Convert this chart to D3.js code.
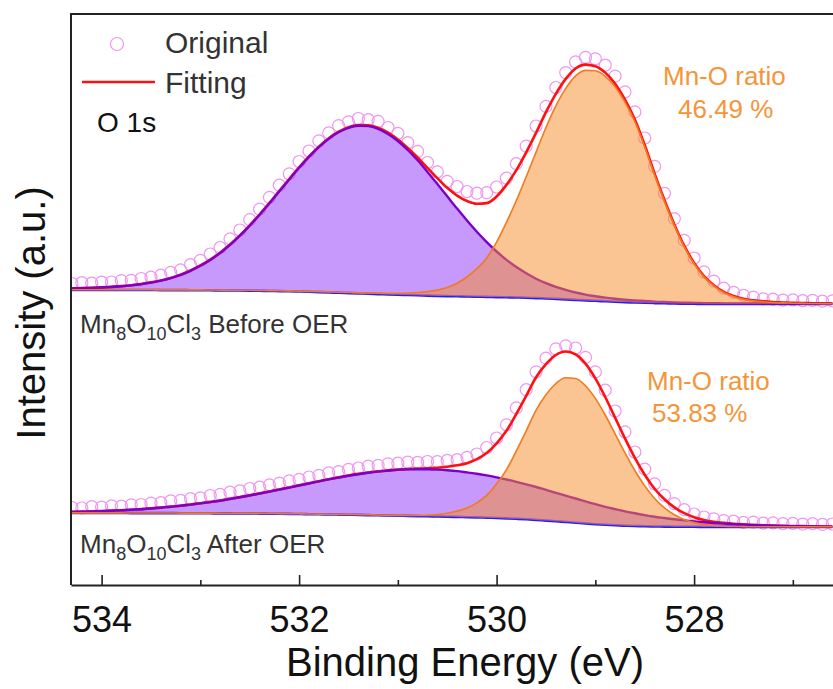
<!DOCTYPE html>
<html>
<head>
<meta charset="utf-8">
<script src="https://cdn.jsdelivr.net/npm/d3@7"></script>
<style>
  body { margin: 0; background: #fff; }
  svg { display: block; font-family: Arial, "Liberation Sans", sans-serif; }
</style>
</head>
<body>
<svg id="chart" width="833" height="689"></svg>
<script>
// Binding energy sampling grid (eV), high to low, 0.1 eV step
const energy = d3.range(78).map(i => +(534.3 - i * 0.1).toFixed(1));

// ---- Before OER (upper spectrum) ----
const beforeRaw = [
  301.5, 302.3, 301.9, 302.8, 303.0, 304.4, 304.6, 306.5, 307.8, 309.9,
  312.6, 315.2, 320.3, 324.6, 331.0, 337.5, 346.2, 355.0, 365.4, 375.9,
  387.6, 399.8, 411.2, 423.5, 434.0, 444.2, 452.1, 459.4, 463.2, 466.5,
  465.3, 463.6, 457.5, 451.7, 442.4, 433.6, 422.5, 413.2, 403.6, 398.5,
  393.5, 391.8, 392.4, 398.0, 406.8, 421.3, 438.9, 459.0, 478.6, 497.5,
  512.4, 523.1, 527.6, 526.2, 519.8, 508.9, 493.2, 473.1, 447.0, 418.6,
  391.7, 366.3, 344.6, 327.0, 313.1, 303.9, 296.8, 292.6, 289.7, 287.9,
  286.1, 285.8, 284.9, 285.2, 284.3, 284.6, 283.8, 284.1
];
const beforeBackground = [
  295.0, 295.0, 295.0, 295.0, 295.0, 295.0, 295.0, 295.0, 295.0, 294.9,
  294.9, 294.9, 294.8, 294.8, 294.7, 294.6, 294.5, 294.5, 294.4, 294.2,
  294.0, 293.9, 293.7, 293.5, 293.2, 292.9, 292.6, 292.2, 291.9, 291.6,
  291.2, 290.9, 290.6, 290.3, 290.0, 289.7, 289.4, 289.1, 288.9, 288.7,
  288.5, 288.3, 288.1, 287.9, 287.7, 287.5, 287.3, 286.9, 286.5, 286.1,
  285.6, 285.1, 284.6, 284.2, 283.7, 283.3, 282.9, 282.5, 282.2, 281.9,
  281.7, 281.5, 281.3, 281.2, 281.1, 281.1, 281.0, 281.0, 281.0, 281.0,
  281.0, 281.0, 281.0, 281.0, 281.0, 281.0, 281.0, 281.0
];
const beforeHighBE = [
  1.5, 1.8, 2.1, 2.5, 3.0, 3.7, 4.6, 5.8, 7.4, 9.5,
  12.0, 15.3, 19.4, 24.4, 30.4, 37.4, 45.6, 54.8, 65.0, 76.0,
  87.7, 99.8, 111.9, 123.7, 135.0, 145.0, 153.7, 160.5, 165.3, 167.7,
  167.7, 165.3, 160.5, 153.7, 145.0, 135.0, 123.7, 111.9, 99.8, 87.7,
  76.0, 65.0, 54.8, 45.6, 37.4, 30.4, 24.4, 19.4, 15.3, 12.0,
  9.5, 7.4, 5.8, 4.6, 3.7, 3.0, 2.5, 2.1, 1.8, 1.5,
  1.3, 1.1, 1.0, 0.9, 0.8, 0.7, 0.6, 0.6, 0.5, 0.5,
  0.4, 0.4, 0.4, 0.3, 0.3, 0.3, 0.3, 0.3
];
const beforeMnO = [
  0.2, 0.2, 0.2, 0.2, 0.2, 0.2, 0.2, 0.2, 0.2, 0.2,
  0.2, 0.2, 0.3, 0.3, 0.3, 0.3, 0.3, 0.3, 0.3, 0.3,
  0.4, 0.4, 0.4, 0.4, 0.4, 0.5, 0.5, 0.6, 0.6, 0.7,
  0.8, 1.0, 1.2, 1.5, 2.0, 2.8, 4.0, 5.8, 8.5, 13.0,
  19.5, 28.0, 39.0, 55.0, 75.0, 97.0, 121.0, 146.0, 171.0, 193.0,
  211.0, 224.0, 230.0, 230.0, 225.0, 215.0, 200.0, 181.0, 156.0, 128.0,
  102.0, 78.0, 57.0, 40.0, 27.0, 18.0, 11.5, 7.5, 4.8, 3.2,
  2.2, 1.5, 1.1, 0.8, 0.6, 0.5, 0.4, 0.4
];

// ---- After OER (lower spectrum) ----
const afterRaw = [
  77.5, 77.0, 78.3, 77.9, 79.1, 78.8, 80.2, 80.5, 81.9, 82.3,
  84.1, 84.6, 86.4, 87.2, 89.5, 90.6, 92.8, 94.1, 96.5, 97.8,
  100.2, 101.9, 104.1, 105.6, 108.0, 109.7, 112.1, 113.4, 115.6, 117.0,
  118.9, 119.6, 121.2, 121.8, 122.9, 122.7, 123.5, 123.4, 124.6, 125.3,
  127.6, 131.0, 137.5, 147.0, 160.2, 177.1, 195.3, 213.2, 226.8, 236.1,
  239.2, 237.0, 227.6, 213.1, 194.8, 174.0, 153.2, 133.0, 115.9, 101.2,
  89.6, 81.4, 75.3, 71.0, 68.0, 66.1, 64.4, 63.8, 62.6, 62.9,
  61.8, 62.2, 61.4, 61.7, 60.9, 61.3, 60.6, 61.0
];
const afterBackground = [
  72.0, 72.0, 72.0, 72.0, 72.0, 72.0, 71.9, 71.9, 71.9, 71.9,
  71.9, 71.8, 71.8, 71.8, 71.7, 71.6, 71.6, 71.5, 71.5, 71.4,
  71.3, 71.2, 71.1, 71.0, 70.8, 70.7, 70.6, 70.4, 70.3, 70.1,
  69.9, 69.7, 69.5, 69.3, 69.1, 68.9, 68.7, 68.5, 68.3, 68.1,
  67.8, 67.6, 67.3, 67.0, 66.6, 66.2, 65.7, 65.1, 64.4, 63.7,
  63.0, 62.3, 61.5, 60.8, 60.2, 59.7, 59.3, 59.0, 58.7, 58.5,
  58.4, 58.3, 58.2, 58.2, 58.1, 58.1, 58.1, 58.1, 58.1, 58.0,
  58.0, 58.0, 58.0, 58.0, 58.0, 58.0, 58.0, 58.0
];
const afterHighBE = [
  1.0, 1.25, 1.5, 1.9, 2.3, 2.7, 3.3, 3.9, 4.6, 5.4,
  6.4, 7.4, 8.6, 9.8, 11.2, 12.7, 14.4, 16.2, 18.0, 20.0,
  22.1, 24.2, 26.3, 28.5, 30.7, 32.9, 35.0, 37.0, 38.9, 40.7,
  42.3, 43.7, 44.8, 45.8, 46.5, 46.9, 47.0, 46.9, 46.5, 45.8,
  44.8, 43.7, 42.3, 40.7, 38.9, 37.0, 35.0, 32.9, 30.7, 28.5,
  26.3, 24.2, 22.1, 20.0, 18.0, 16.2, 14.4, 12.7, 11.2, 9.8,
  8.6, 7.4, 6.4, 5.4, 4.6, 3.9, 3.3, 2.7, 2.3, 1.9,
  1.5, 1.25, 1.0, 0.8, 0.7, 0.5, 0.4, 0.3
];
const afterMnO = [
  0.1, 0.1, 0.1, 0.1, 0.1, 0.1, 0.1, 0.1, 0.1, 0.1,
  0.1, 0.1, 0.1, 0.1, 0.2, 0.2, 0.2, 0.2, 0.2, 0.2,
  0.2, 0.2, 0.2, 0.2, 0.2, 0.2, 0.2, 0.2, 0.3, 0.3,
  0.3, 0.3, 0.3, 0.3, 0.4, 0.6, 1.0, 1.9, 3.4, 5.8,
  9.2, 14.6, 22.4, 34.0, 48.7, 68.0, 88.5, 109.8, 125.8, 137.8,
  144.2, 144.2, 137.8, 125.8, 109.8, 91.5, 72.9, 55.5, 40.4, 28.0,
  18.7, 11.9, 7.2, 4.2, 2.4, 1.3, 0.7, 0.4, 0.3, 0.2,
  0.2, 0.2, 0.2, 0.2, 0.2, 0.2, 0.2, 0.2
];

const majorTicks = [534, 532, 530, 528];
const minorTicks = [533, 531, 529, 527];

const sampleLabels = [
  { parts: [["Mn", 0], ["8", 1], ["O", 0], ["10", 1], ["Cl", 0], ["3", 1], [" Before OER", 0]], x: 80, y: 333 },
  { parts: [["Mn", 0], ["8", 1], ["O", 0], ["10", 1], ["Cl", 0], ["3", 1], [" After OER", 0]], x: 80, y: 553 }
];
const ratioLabels = [
  { lines: ["Mn-O ratio", "46.49 %"], x: [663, 678], y: [85, 118] },
  { lines: ["Mn-O ratio", "53.83 %"], x: [647, 652], y: [390, 422] }
];

// ---- layout ----
const svg = d3.select("#chart");
const plot = { left: 71, right: 859, top: 14, bottom: 585 };

const x = d3.scaleLinear().domain([534.31, 526.33]).range([plot.left, plot.right]);
const y = d3.scaleLinear().domain([0, 571]).range([plot.bottom, plot.top]);

svg.append("defs").append("clipPath").attr("id", "plotClip")
  .append("rect")
  .attr("x", plot.left + 1).attr("y", plot.top + 1)
  .attr("width", plot.right - plot.left).attr("height", plot.bottom - plot.top - 1);

const g = svg.append("g").attr("clip-path", "url(#plotClip)");

function makeSpectrum(raw, bg, highBE, mno) {
  return energy.map((e, i) => ({
    e, raw: raw[i], bg: bg[i],
    p: bg[i] + highBE[i],
    o: bg[i] + mno[i],
    fit: bg[i] + highBE[i] + mno[i]
  }));
}
const spectra = [
  makeSpectrum(beforeRaw, beforeBackground, beforeHighBE, beforeMnO),
  makeSpectrum(afterRaw, afterBackground, afterHighBE, afterMnO)
];

const curve = d3.curveMonotoneX;
const line = key => d3.line().x(d => x(d.e)).y(d => y(d[key])).curve(curve);
const band = key => d3.area().x(d => x(d.e)).y0(d => y(d.bg)).y1(d => y(d[key])).curve(curve);

// measured points
spectra.forEach(s => {
  g.append("g").selectAll("circle").data(s).join("circle")
    .attr("cx", d => x(d.e)).attr("cy", d => y(d.raw)).attr("r", 6)
    .attr("fill", "none").attr("stroke", "#f096f0").attr("stroke-width", 1.2);
});

spectra.forEach(s => {
  g.append("path").datum(s).attr("d", line("bg"))
    .attr("fill", "none").attr("stroke", "#2020ff").attr("stroke-width", 2.6);
  g.append("path").datum(s).attr("d", band("p"))
    .attr("fill", "rgb(150,60,250)").attr("fill-opacity", 0.52);
  g.append("path").datum(s).attr("d", line("fit"))
    .attr("fill", "none").attr("stroke", "#ff1010").attr("stroke-width", 2.6);
  g.append("path").datum(s).attr("d", line("p"))
    .attr("fill", "none").attr("stroke", "#7d00c8").attr("stroke-width", 2.4);
  g.append("path").datum(s).attr("d", band("o"))
    .attr("fill", "rgb(245,140,40)").attr("fill-opacity", 0.5);
  g.append("path").datum(s).attr("d", line("o"))
    .attr("fill", "none").attr("stroke", "#f07a20").attr("stroke-width", 1.6);
});

// frame
svg.append("path")
  .attr("d", `M${plot.left},${plot.bottom}V${plot.top}H${plot.right}`)
  .attr("fill", "none").attr("stroke", "#222").attr("stroke-width", 2);

// x axis (ticks inside)
const axisG = svg.append("g").attr("transform", `translate(0,${plot.bottom})`);
axisG.call(d3.axisBottom(x).tickValues(majorTicks).tickFormat(d3.format("d"))
  .tickSizeInner(-10).tickSizeOuter(0).tickPadding(21));
axisG.select(".domain").attr("stroke", "#222").attr("stroke-width", 2);
axisG.selectAll(".tick line").attr("stroke", "#222").attr("stroke-width", 1.6);
axisG.selectAll(".tick text").attr("font-size", 36).attr("fill", "#111")
  .attr("font-family", "Arial, 'Liberation Sans', sans-serif");
const minorG = svg.append("g").attr("transform", `translate(0,${plot.bottom})`);
minorG.call(d3.axisBottom(x).tickValues(minorTicks).tickFormat("").tickSizeInner(-5).tickSizeOuter(0));
minorG.select(".domain").remove();
minorG.selectAll(".tick line").attr("stroke", "#222").attr("stroke-width", 1.6);

svg.append("text").attr("x", (plot.left + plot.right) / 2).attr("y", 676)
  .attr("text-anchor", "middle").attr("font-size", 40).attr("fill", "#111")
  .text("Binding Energy (eV)");

svg.append("text").attr("transform", "translate(45,313) rotate(-90)")
  .attr("text-anchor", "middle").attr("font-size", 40).attr("fill", "#111")
  .text("Intensity (a.u.)");

// legend
svg.append("circle").attr("cx", 117).attr("cy", 44).attr("r", 6.5)
  .attr("fill", "none").attr("stroke", "#f096f0").attr("stroke-width", 1.2);
svg.append("text").attr("x", 165).attr("y", 53).attr("font-size", 30).attr("fill", "#333").text("Original");
svg.append("line").attr("x1", 82).attr("x2", 155).attr("y1", 82).attr("y2", 82)
  .attr("stroke", "#ff1010").attr("stroke-width", 2.6);
svg.append("text").attr("x", 165).attr("y", 93).attr("font-size", 30).attr("fill", "#333").text("Fitting");
svg.append("text").attr("x", 97).attr("y", 132).attr("font-size", 28).attr("fill", "#111").text("O 1s");

// Mn-O ratio annotations
ratioLabels.forEach(r => {
  r.lines.forEach((t, i) => {
    svg.append("text").attr("x", r.x[i]).attr("y", r.y[i])
      .attr("font-size", 26).attr("fill", "#f5953a").text(t);
  });
});

// sample names with subscripts
sampleLabels.forEach(l => {
  const t = svg.append("text").attr("x", l.x).attr("y", l.y)
    .attr("font-size", 26).attr("fill", "#333");
  let sub = false;
  l.parts.forEach(([s, isSub]) => {
    const ts = t.append("tspan").text(s);
    if (isSub && !sub) { ts.attr("dy", 7).attr("font-size", 18); sub = true; }
    else if (isSub) { ts.attr("font-size", 18); }
    else if (sub) { ts.attr("dy", -7); sub = false; }
  });
});
</script>
</body>
</html>
